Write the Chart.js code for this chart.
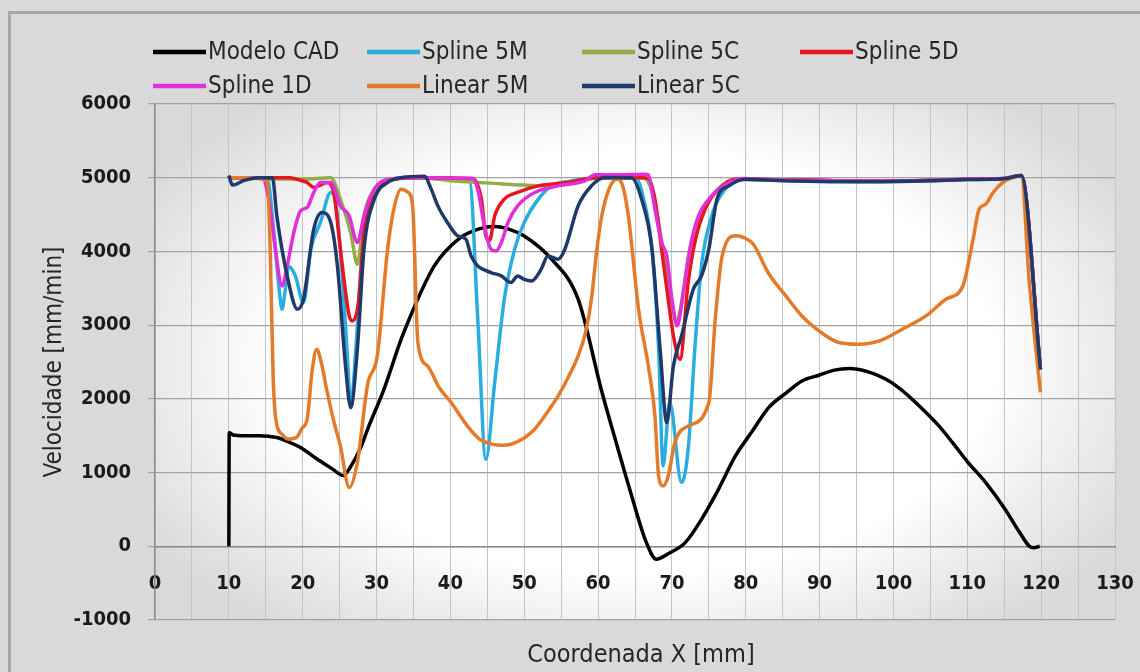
<!DOCTYPE html>
<html>
<head>
<meta charset="utf-8">
<script src="https://cdn.jsdelivr.net/npm/chart.js@4.4.1/dist/chart.umd.min.js"></script>
<style>
  html, body { margin: 0; padding: 0; background: #d9d9d9; }
  #wrap { width: 1140px; height: 672px; position: relative; }
</style>
</head>
<body>
<div id="wrap"><canvas id="velocityChart"></canvas></div>
<script>
// Modelo CAD
const cadX = [10, 10.05, 10.6, 12, 14, 16.5, 18, 19.7, 22, 24, 25.5, 26.5, 27.9, 28.8, 31, 33.3, 34.6, 37.8, 41.4, 44, 46, 48, 50, 53.7, 57.3, 60.5, 62.7, 64.5, 66.5, 67.9, 69.5, 71.8, 74, 76.3, 78.6, 80.8, 83.1, 85.4, 87.6, 89.9, 92, 94, 96.5, 99, 101, 103.5, 106, 108, 110, 112.5, 115, 117.1, 118.4, 119, 119.8];
const cadY = [0, 1540, 1510, 1500, 1500, 1475, 1420, 1340, 1180, 1050, 960, 1080, 1350, 1590, 2130, 2800, 3125, 3800, 4190, 4310, 4338, 4300, 4210, 3895, 3352, 2100, 1320, 700, 60, -176, -100, 50, 366, 773, 1225, 1550, 1882, 2075, 2243, 2320, 2390, 2411, 2370, 2266, 2130, 1904, 1650, 1407, 1150, 864, 520, 186, 0, -20, 0];

// Spline 5M
const s5mX = [10, 12, 14, 15.2, 16.1, 16.8, 17.2, 17.6, 18.1, 19, 20.1, 21.1, 22.4, 23.8, 24.4, 25.1, 26, 26.5, 27.2, 27.9, 29.2, 31.5, 34, 38, 42.6, 43.7, 44.8, 46, 47.3, 48.7, 50, 51.9, 53.7, 56, 60, 64, 65.2, 66.2, 67.3, 68.2, 68.8, 69.7, 71.3, 72.2, 73.1, 74, 75.4, 77.2, 79.5, 85, 90, 95, 100, 105, 110, 115, 117.3, 119.9];
const s5mY = [5000, 5000, 5000, 4980, 4257, 3500, 3216, 3450, 3800, 3668, 3307, 4030, 4393, 4800, 4700, 4030, 2673, 1904, 2673, 3804, 4709, 4957, 5000, 5000, 4960, 3100, 1180, 2221, 3352, 4030, 4393, 4709, 4889, 4950, 5000, 5000, 4990, 4700, 4030, 2673, 1090, 1950, 864, 1316, 2673, 3804, 4482, 4845, 4980, 4965, 4960, 4950, 4950, 4960, 4975, 4990, 5030, 2400];

// Spline 5C
const s5cX = [10, 20, 23.8, 25.1, 26.5, 27.4, 28.3, 30.1, 32, 36, 40, 45, 50, 53, 55, 58, 60, 66, 67, 68, 69, 70, 70.6, 71.3, 72.2, 73.5, 75, 77, 79.5, 85, 90, 95, 100, 105, 110, 115, 117.3, 119.9];
const s5cY = [5000, 4980, 5000, 4709, 4257, 3827, 4482, 4889, 4980, 5000, 4960, 4930, 4900, 4890, 4920, 4960, 5000, 5000, 4900, 4500, 3900, 3300, 3050, 3300, 3900, 4400, 4700, 4900, 4980, 4970, 4965, 4955, 4955, 4965, 4980, 4990, 5030, 2400];

// Spline 5D
const s5dX = [10, 14, 18.3, 19.5, 20.6, 21.5, 22.4, 23.3, 24.2, 25.1, 26.3, 26.7, 27.6, 28.3, 30.1, 32.4, 36, 43, 44.2, 44.8, 45.3, 46, 47.3, 49.1, 51.9, 55.9, 59.6, 66, 66.8, 67.7, 68.6, 69.5, 70.2, 71.1, 72.2, 73.1, 74.5, 76.3, 78.6, 85, 90, 95, 100, 105, 110, 115, 117.3, 119.9];
const s5dY = [5000, 5000, 5000, 4970, 4935, 4868, 4900, 4935, 4800, 4030, 3125, 3057, 3352, 4257, 4800, 4980, 5000, 4990, 4709, 4211, 4150, 4482, 4709, 4800, 4889, 4935, 5000, 5000, 4990, 4709, 4030, 3352, 2854, 2538, 3578, 4121, 4573, 4845, 4980, 4970, 4965, 4955, 4955, 4965, 4980, 4990, 5030, 2400];

// Spline 1D
const s1dX = [10, 14.5, 15.4, 16.3, 17.2, 17.9, 18.8, 19.7, 20.6, 21.5, 22.4, 23.8, 25.1, 26.3, 27.4, 28.3, 29.7, 31.8, 36, 43, 43.7, 44.6, 45.5, 46.2, 46.9, 47.8, 49.1, 51.4, 54.6, 58.2, 59.6, 62.7, 66.3, 66.8, 67.7, 68.6, 69.3, 70, 70.7, 71.6, 72.5, 73.6, 75.4, 77.7, 79.5, 85, 90, 95, 100, 105, 110, 115, 117.3, 119.9];
const s1dY = [5000, 5000, 4709, 4030, 3532, 3804, 4257, 4550, 4596, 4800, 4935, 4935, 4618, 4482, 4121, 4482, 4845, 4980, 5000, 4990, 4845, 4347, 4030, 4007, 4121, 4393, 4618, 4800, 4889, 4957, 5040, 5040, 5048, 5040, 4573, 4121, 3939, 3352, 2990, 3488, 4075, 4482, 4754, 4935, 4990, 4970, 4965, 4955, 4955, 4965, 4980, 4990, 5030, 2400];

// Linear 5M
const l5mX = [10, 12, 14, 15.2, 15.6, 16.0, 16.4, 17.2, 18, 19.2, 19.9, 20.6, 21.3, 21.9, 22.5, 23.3, 24.2, 25.1, 26.3, 27.4, 28.8, 30.1, 31.5, 32.4, 33.3, 34.3, 34.9, 35.6, 36.9, 38.5, 40.1, 42.4, 44, 45.5, 47, 48.2, 50, 51.4, 53, 54.6, 56, 57.3, 58.3, 59.1, 59.8, 60.5, 61.5, 62.5, 63.3, 64.1, 65.5, 66.8, 67.7, 68.2, 68.8, 69.5, 70.4, 72.2, 75, 75.9, 76.8, 78.6, 79.9, 81, 83.1, 85.4, 87.6, 89.9, 92.6, 95.3, 98.1, 101.2, 104.4, 107.1, 109.4, 110.7, 111.6, 112.5, 113.5, 114.8, 116.6, 117.3, 118.4, 119.9];
const l5mY = [5000, 5000, 4990, 4950, 4030, 2300, 1700, 1520, 1455, 1480, 1600, 1723, 2400, 2673, 2500, 2100, 1700, 1361, 796, 1136, 2200, 2583, 4030, 4600, 4845, 4800, 4600, 2764, 2447, 2150, 1950, 1620, 1450, 1390, 1370, 1384, 1470, 1588, 1800, 2040, 2300, 2583, 2900, 3352, 4000, 4482, 4850, 4980, 4900, 4482, 3200, 2450, 1768, 954, 818, 954, 1407, 1632, 1950, 3125, 3939, 4211, 4180, 4100, 3700, 3400, 3125, 2922, 2764, 2741, 2786, 2945, 3125, 3352, 3532, 4121, 4573, 4641, 4800, 4935, 5017, 5025, 3578, 2090];

// Linear 5C
const l5cX = [10, 10.5, 12, 14, 15.9, 16.5, 17.9, 19.3, 20.1, 21.5, 22.6, 23.8, 24.7, 25.8, 26.5, 27.4, 28.3, 29.7, 31.5, 33.3, 36.5, 37.4, 38.3, 39.6, 41, 42.1, 42.8, 43.7, 45.5, 46.9, 48.2, 49.1, 50, 51, 52.3, 53.2, 54.6, 55.5, 57.3, 59.1, 60.9, 64.5, 65.9, 67.3, 68.4, 69.3, 70.2, 71.3, 72.9, 74, 75, 76.1, 77.7, 79.9, 85, 90, 95, 100, 105, 110, 115, 117.3, 119.9];
const l5cY = [5030, 4900, 4960, 5000, 5000, 4482, 3668, 3216, 3352, 4302, 4528, 4393, 3804, 2447, 1880, 2673, 4030, 4709, 4935, 5000, 5020, 4845, 4618, 4393, 4211, 4166, 3939, 3804, 3714, 3668, 3578, 3668, 3620, 3600, 3759, 3939, 3895, 4030, 4618, 4889, 5003, 5000, 4709, 4030, 2673, 1679, 2447, 2854, 3488, 3668, 4030, 4709, 4889, 4980, 4960, 4950, 4945, 4950, 4960, 4975, 4985, 5030, 2400];

const seriesNames = ["Modelo CAD", "Spline 5M", "Spline 5C", "Spline 5D", "Spline 1D", "Linear 5M", "Linear 5C"];
const seriesColors = ["#000000", "#2aaee2", "#93ab4a", "#e8151f", "#e030dc", "#e47b2a", "#1f3a68"];
const seriesX = [cadX, s5mX, s5cX, s5dX, s1dX, l5mX, l5cX];
const seriesY = [cadY, s5mY, s5cY, s5dY, s1dY, l5mY, l5cY];

const FONT = "'DejaVu Sans Condensed', 'DejaVu Sans', sans-serif";

function points(xs, ys) {
  return xs.map((x, i) => ({ x: x, y: ys[i] }));
}

// grey chart background with a white glow over the plot area
const glowPlugin = {
  id: "glow",
  beforeDraw(chart) {
    const { ctx, chartArea: a, width, height } = chart;
    ctx.save();
    ctx.fillStyle = "#d9d9d9";
    ctx.fillRect(0, 0, width, height);
    ctx.save();
    ctx.beginPath();
    ctx.rect(a.left, a.top, a.right - a.left, a.bottom - a.top);
    ctx.clip();
    const cx = (a.left + a.right) / 2;
    const cy = (a.top + a.bottom) / 2;
    const rx = (a.right - a.left) * 0.6;
    const ry = (a.bottom - a.top) * 0.66;
    ctx.translate(cx, cy);
    ctx.scale(rx / ry, 1);
    const g = ctx.createRadialGradient(0, 0, 0, 0, 0, ry);
    g.addColorStop(0, "#ffffff");
    g.addColorStop(0.62, "#ffffff");
    g.addColorStop(1, "#d9d9d9");
    ctx.fillStyle = g;
    ctx.fillRect(-ry, -ry, 2 * ry, 2 * ry);
    ctx.restore();
    ctx.strokeStyle = "#a8a8a8";
    ctx.lineWidth = 3;
    ctx.strokeRect(9.5, 12.5, width, height);
    ctx.restore();
  }
};

// two-row legend and x axis title, laid out like the spreadsheet original
const legendPlugin = {
  id: "sheetLegend",
  afterDraw(chart) {
    const { ctx, chartArea: a } = chart;
    const cols = [153, 367, 582, 800];
    const rows = [52, 86];
    ctx.save();
    ctx.font = "24px " + FONT;
    ctx.textBaseline = "middle";
    ctx.textAlign = "left";
    chart.data.datasets.forEach((ds, i) => {
      const x = cols[i % 4];
      const y = rows[Math.floor(i / 4)];
      ctx.strokeStyle = ds.borderColor;
      ctx.lineWidth = 4.5;
      ctx.beginPath();
      ctx.moveTo(x, y);
      ctx.lineTo(x + 53, y);
      ctx.stroke();
      ctx.fillStyle = "#262626";
      ctx.fillText(ds.label, x + 55, y + 1);
    });
    ctx.font = "25px " + FONT;
    ctx.textAlign = "center";
    ctx.fillText("Coordenada X [mm]", (a.left + a.right) / 2 + 6, 655);
    ctx.restore();
  }
};

const datasets = seriesNames.map((name, i) => ({
  label: name,
  data: points(seriesX[i], seriesY[i]),
  borderColor: seriesColors[i],
  backgroundColor: seriesColors[i],
  borderWidth: 3.5,
  pointRadius: 0,
  cubicInterpolationMode: "monotone",
  fill: false,
  order: seriesNames.length - i
}));

new Chart(document.getElementById("velocityChart"), {
  type: "line",
  data: { datasets },
  options: {
    responsive: true,
    maintainAspectRatio: false,
    animation: false,
    devicePixelRatio: 1,
    layout: { padding: { left: 0, top: 104, right: 25, bottom: 52 } },
    plugins: {
      legend: { display: false },
      tooltip: { enabled: false }
    },
    scales: {
      x: {
        type: "linear",
        min: 0,
        max: 130,
        position: { y: 0 },
        ticks: {
          stepSize: 5,
          autoSkip: false,
          maxRotation: 0,
          padding: 18,
          color: "#1a1a1a",
          font: { family: FONT, size: 20, weight: "bold" },
          callback: (v) => (v % 10 === 0 ? String(v) : "")
        },
        grid: { color: "#c4c4c4", lineWidth: 1, tickLength: 8 },
        border: { color: "#8a8a8a", width: 1.5 },
        afterFit(scale) {
          scale.paddingLeft = 0;
          scale.paddingRight = 0;
        }
      },
      y: {
        min: -1000,
        max: 6000,
        ticks: {
          stepSize: 1000,
          padding: 17,
          color: "#1a1a1a",
          font: { family: FONT, size: 20, weight: "bold" },
          callback: (v) => String(v)
        },
        grid: { color: "#a3a3a3", lineWidth: 1.2, tickLength: 7 },
        border: { color: "#8a8a8a", width: 1.5 },
        title: {
          display: true,
          text: "Velocidade [mm/min]",
          color: "#262626",
          font: { family: FONT, size: 24 },
          padding: { top: 40, bottom: 0 }
        },
        afterFit(scale) {
          scale.width = 155;
        }
      }
    }
  },
  plugins: [glowPlugin, legendPlugin]
});
</script>
</body>
</html>
